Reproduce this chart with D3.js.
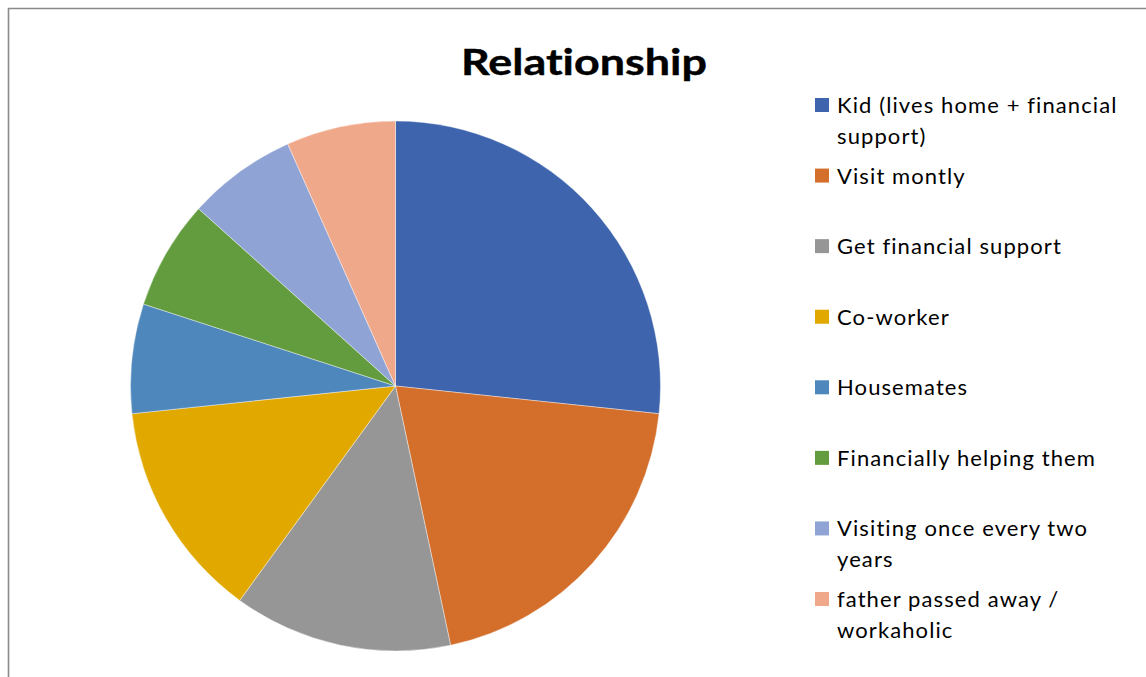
<!DOCTYPE html>
<html>
<head>
<meta charset="utf-8">
<script src="https://d3js.org/d3.v7.min.js"></script>
<style>
  html, body { margin: 0; padding: 0; background: #fff; }
  svg { display: block; }
  text { font-variant-ligatures: none; font-feature-settings: "liga" 0, "dlig" 0; }
</style>
</head>
<body>
<svg id="chart" width="1146" height="677"></svg>
<script>
// Relationship breakdown (counts of respondents)
const categories = [
  "Kid (lives home + financial support)",
  "Visit montly",
  "Get financial support",
  "Co-worker",
  "Housemates",
  "Financially helping them",
  "Visiting once every two years",
  "father passed away / workaholic"
];
const values = [4, 3, 2, 2, 1, 1, 1, 1];
// Legend text split into its displayed lines
const legendLines = [
  ["Kid (lives home + financial", "support)"],
  ["Visit montly"],
  ["Get financial support"],
  ["Co-worker"],
  ["Housemates"],
  ["Financially helping them"],
  ["Visiting once every two", "years"],
  ["father passed away /", "workaholic"]
];
const colors = ["#3d64ad", "#d36e2b", "#969696", "#e1a900", "#4e87bc", "#639c3e", "#8fa3d4", "#f0a88a"];
const title = "Relationship";

const svg = d3.select("#chart");
const font = "Lato, 'Open Sans', sans-serif";

// chart frame
svg.append("path")
  .attr("d", "M8.5,677 V8.5 H1146")
  .attr("fill", "none")
  .attr("stroke", "#8a8a8a")
  .attr("stroke-width", 1.6);

// title
svg.append("text")
  .attr("x", 584)
  .attr("y", 75)
  .attr("text-anchor", "middle")
  .attr("font-family", font)
  .attr("font-weight", "bold")
  .attr("font-size", 36)
  .attr("fill", "#000")
  .attr("stroke", "#000")
  .attr("stroke-width", 0.4)
  .attr("textLength", 246)
  .attr("lengthAdjust", "spacingAndGlyphs")
  .text(title);

// pie
const cx = 395.5, cy = 386, r = 265;
const pie = d3.pie().sort(null).value(d => d)(values);
const arc = d3.arc().innerRadius(0).outerRadius(r);
const color = d3.scaleOrdinal().domain(categories).range(colors);

svg.append("g")
  .attr("transform", `translate(${cx},${cy})`)
  .selectAll("path")
  .data(pie)
  .join("path")
  .attr("d", arc)
  .attr("fill", (d, i) => color(categories[i]))
  .attr("stroke", "#ffffff")
  .attr("stroke-opacity", 0.5)
  .attr("stroke-width", 0.8);

// legend
const legendY = d3.scalePoint().domain(categories).range([105, 599]);
const lg = svg.append("g");
const items = lg.selectAll("g")
  .data(categories)
  .join("g")
  .attr("transform", d => `translate(815,${legendY(d)})`);

items.append("rect")
  .attr("x", 0)
  .attr("y", -7)
  .attr("width", 14)
  .attr("height", 14)
  .attr("fill", d => color(d));

items.each(function(d, i) {
  const g = d3.select(this);
  legendLines[i].forEach((line, j) => {
    g.append("text")
      .attr("x", 22)
      .attr("y", 8 + j * 31)
      .attr("font-family", font)
      .attr("font-size", 22)
      .attr("letter-spacing", 1.1)
      .attr("fill", "#000")
      .text(line);
  });
});
</script>
</body>
</html>
